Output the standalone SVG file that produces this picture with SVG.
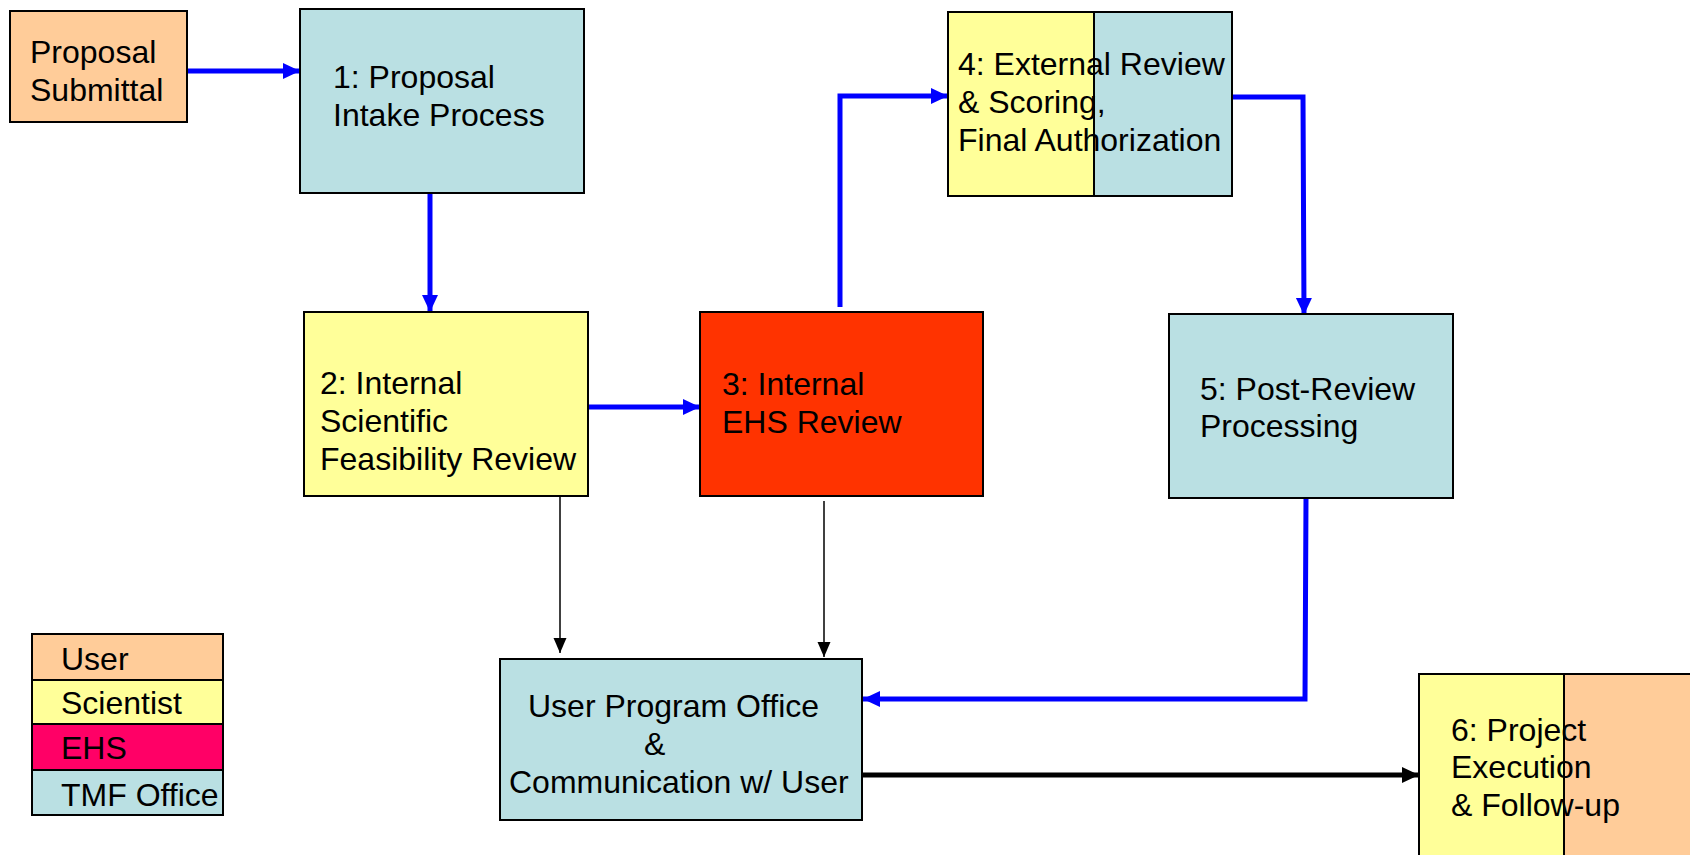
<svg xmlns="http://www.w3.org/2000/svg" width="1690" height="855" viewBox="0 0 1690 855">
  <style>
    .box { stroke: #000; stroke-width: 2; }
    .user { fill: #FFCC99; }
    .sci { fill: #FFFF99; }
    .ehs { fill: #FF3300; }
    .ehs-key { fill: #FF0066; }
    .tmf { fill: #BAE0E3; }
    text { font-family: "Liberation Sans", Arial, sans-serif; font-size: 32px; fill: #000; }
    .flow { fill: none; stroke: #0000FF; stroke-width: 5; }
    .thin { fill: none; stroke: #000; stroke-width: 1.5; }
    .thick { fill: none; stroke: #000; stroke-width: 5; }
  </style>
  <defs>
    <marker id="blueHead" markerUnits="userSpaceOnUse" markerWidth="18" markerHeight="18" refX="17" refY="8" orient="auto">
      <path d="M0,0 L17,8 L0,16 z" fill="#0000FF"/>
    </marker>
    <marker id="blackHead" markerUnits="userSpaceOnUse" markerWidth="16" markerHeight="16" refX="15" refY="6.5" orient="auto">
      <path d="M0,0 L15,6.5 L0,13 z" fill="#000"/>
    </marker>
    <marker id="boldHead" markerUnits="userSpaceOnUse" markerWidth="18" markerHeight="18" refX="17" refY="8" orient="auto">
      <path d="M0,0 L17,8 L0,16 z" fill="#000"/>
    </marker>
  </defs>

  <!-- connectors -->
  <g id="connectors">
    <path class="flow" d="M187,71 L300,71" marker-end="url(#blueHead)"/>
    <path class="flow" d="M430,193 L430,312" marker-end="url(#blueHead)"/>
    <path class="flow" d="M588,407 L700,407" marker-end="url(#blueHead)"/>
    <path class="flow" d="M840,307 L840,96 L948,96" marker-end="url(#blueHead)"/>
    <path class="flow" d="M1232,97 L1303,97 L1304,315" marker-end="url(#blueHead)"/>
    <path class="flow" d="M1306,498 L1305,699 L863,699" marker-end="url(#blueHead)"/>
    <path class="thin" d="M560,496 L560,653" marker-end="url(#blackHead)"/>
    <path class="thin" d="M824,501 L824,657" marker-end="url(#blackHead)"/>
    <path class="thick" d="M862,775 L1419,775" marker-end="url(#boldHead)"/>
  </g>

  <!-- proposal submittal -->
  <g id="node-submittal">
    <rect class="box user" x="10" y="11" width="177" height="111"/>
    <text x="30" y="63">Proposal</text>
    <text x="30" y="101">Submittal</text>
  </g>

  <!-- step 1 -->
  <g id="node-intake">
    <rect class="box tmf" x="300" y="9" width="284" height="184"/>
    <text x="333" y="88">1: Proposal</text>
    <text x="333" y="126">Intake Process</text>
  </g>

  <!-- step 2 -->
  <g id="node-feasibility">
    <rect class="box sci" x="304" y="312" width="284" height="184"/>
    <text x="320" y="394">2: Internal</text>
    <text x="320" y="432">Scientific</text>
    <text x="320" y="470">Feasibility Review</text>
  </g>

  <!-- step 3 -->
  <g id="node-ehs">
    <rect class="box ehs" x="700" y="312" width="283" height="184"/>
    <text x="722" y="395">3: Internal</text>
    <text x="722" y="433">EHS Review</text>
  </g>

  <!-- step 4: split scientist / office -->
  <g id="node-external">
    <rect class="sci" x="948" y="12" width="146" height="184"/>
    <rect class="tmf" x="1094" y="12" width="138" height="184"/>
    <rect class="box" fill="none" x="948" y="12" width="284" height="184"/>
    <line x1="1094" y1="12" x2="1094" y2="196" stroke="#000" stroke-width="2"/>
    <text x="958" y="75">4: External Review</text>
    <text x="958" y="113">&amp; Scoring,</text>
    <text x="958" y="151">Final Authorization</text>
  </g>

  <!-- step 5 -->
  <g id="node-postreview">
    <rect class="box tmf" x="1169" y="314" width="284" height="184"/>
    <text x="1200" y="400">5: Post-Review</text>
    <text x="1200" y="437">Processing</text>
  </g>

  <!-- user program office -->
  <g id="node-office">
    <rect class="box tmf" x="500" y="659" width="362" height="161"/>
    <text x="528" y="717">User Program Office</text>
    <text x="644" y="755">&amp;</text>
    <text x="509" y="793">Communication w/ User</text>
  </g>

  <!-- step 6: split scientist / user -->
  <g id="node-execution">
    <rect class="sci" x="1419" y="674" width="145" height="190"/>
    <rect class="user" x="1564" y="674" width="140" height="190"/>
    <rect class="box" fill="none" x="1419" y="674" width="285" height="190"/>
    <line x1="1564" y1="674" x2="1564" y2="864" stroke="#000" stroke-width="2"/>
    <text x="1451" y="741">6: Project</text>
    <text x="1451" y="778">Execution</text>
    <text x="1451" y="816">&amp; Follow-up</text>
  </g>

  <!-- legend -->
  <g id="legend">
    <rect class="box user" x="32" y="634" width="191" height="46"/>
    <rect class="box sci" x="32" y="680" width="191" height="44"/>
    <rect class="box ehs-key" x="32" y="724" width="191" height="46"/>
    <rect class="box tmf" x="32" y="770" width="191" height="45"/>
    <text x="61" y="670">User</text>
    <text x="61" y="714">Scientist</text>
    <text x="61" y="759">EHS</text>
    <text x="61" y="806">TMF Office</text>
  </g>
</svg>
